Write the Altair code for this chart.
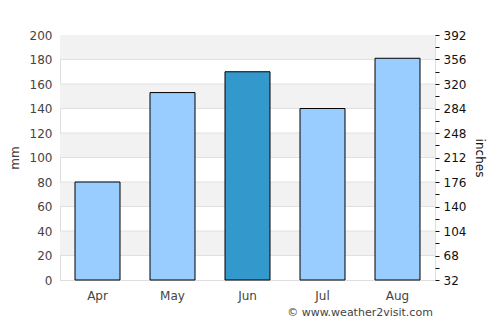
import altair as alt
import pandas as pd

months = ["Apr", "May", "Jun", "Jul", "Aug"]
rain_mm = [80, 153, 170, 140, 181]
colors = ["#99ccff", "#99ccff", "#3399cc", "#99ccff", "#99ccff"]
band_lo = [20, 60, 100, 140, 180]
band_hi = [40, 80, 120, 160, 200]
grid_vals = [20, 40, 60, 80, 100, 120, 140, 160, 180]
right_ticks = list(range(0, 201, 10))

W, H = 375, 245
FONT = "DejaVu Sans"
TXT = "#444444"
TXT_R = "#111111"

bars_df = pd.DataFrame({"month": months, "mm": rain_mm, "color": colors})
bands_df = pd.DataFrame({"lo": band_lo, "hi": band_hi})
grid_df = pd.DataFrame({"v": grid_vals})

yscale = alt.Scale(domain=[0, 200], nice=False)

bands = alt.Chart(bands_df).mark_rect(color="#f2f2f2").encode(
    x=alt.value(0), x2=alt.value(W),
    y=alt.Y("lo:Q", scale=yscale, axis=None), y2="hi:Q",
)

grid = alt.Chart(grid_df).mark_rule(color="#e0e0e0", strokeWidth=1).encode(
    x=alt.value(0), x2=alt.value(W),
    y=alt.Y("v:Q", scale=yscale, axis=None),
)

bars = alt.Chart(bars_df).mark_bar(stroke="black", strokeWidth=1).encode(
    x=alt.X("month:N", sort=months,
            scale=alt.Scale(paddingInner=0.4, paddingOuter=0.2),
            axis=alt.Axis(title=None, ticks=False, domain=True, domainColor="#dddddd",
                          labelAngle=0, labelFont=FONT, labelFontSize=12,
                          labelColor=TXT, labelPadding=10)),
    y=alt.Y("mm:Q", scale=yscale,
            axis=alt.Axis(title="mm", values=list(range(0, 201, 20)), ticks=False,
                          domain=True, domainColor="#dddddd", grid=False,
                          labelFont=FONT, labelFontSize=12, labelColor=TXT,
                          labelPadding=8, titleFont=FONT, titleFontSize=12,
                          titleFontWeight="normal", titleColor=TXT, titlePadding=8)),
    color=alt.Color("color:N", scale=None),
)

right = alt.Chart(grid_df).mark_rule(opacity=0).encode(
    x=alt.value(0), x2=alt.value(1),
    y=alt.Y("v:Q", scale=yscale,
            axis=alt.Axis(orient="right", title="inches", values=right_ticks,
                          labelExpr="datum.value % 20 == 0 ? format(datum.value*1.8+32, 'd') : ''",
                          ticks=True, tickSize=4, tickColor=TXT_R, domain=False,
                          grid=False, labelFont=FONT, labelFontSize=12,
                          labelColor=TXT_R, labelPadding=4, titleFont=FONT,
                          titleFontSize=12, titleFontWeight="normal",
                          titleColor=TXT_R, titlePadding=7)),
)

footer = alt.Chart(pd.DataFrame({"t": ["© www.weather2visit.com"]})).mark_text(
    font=FONT, fontSize=11, color=TXT, align="center", baseline="middle"
).encode(x=alt.value(300), y=alt.value(278), text="t:N")

chart = alt.layer(bands, grid, bars, right, footer).resolve_axis(
    y="independent"
).properties(
    width=W, height=H,
    autosize=alt.AutoSizeParams(type="none"),
    padding={"left": 60, "top": 35, "right": 65, "bottom": 45},
).configure_view(stroke="#e0e0e0").configure(background="white")

chart.save("out.html", embed_options={"renderer": "svg", "actions": False})
